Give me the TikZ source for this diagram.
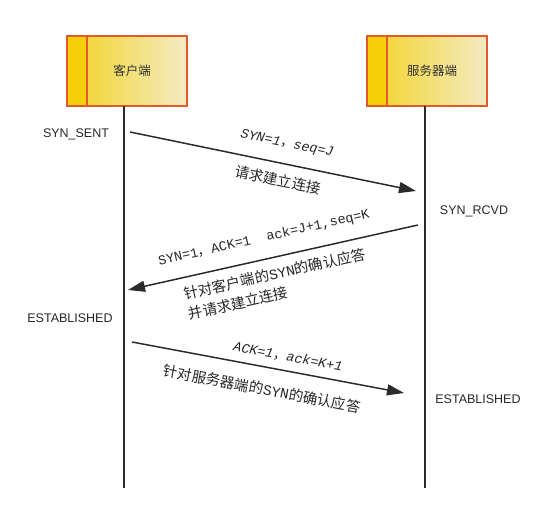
\documentclass[tikz,border=0pt]{standalone}
\usepackage{fontspec}
\setmainfont{Liberation Sans}
\newfontfamily\cjk{Noto Sans CJK SC}
\newfontfamily\monof{Liberation Mono}
\usetikzlibrary{arrows.meta}
\definecolor{stripcol}{HTML}{F5D00A}
\definecolor{gradl}{HTML}{F2D322}
\definecolor{gradr}{HTML}{F4EBC4}
\definecolor{bordercol}{HTML}{E2592A}
\definecolor{linecol}{HTML}{2B2B2B}
\begin{document}
\begin{tikzpicture}[x=1pt,y=-1pt,
  box/.style={minimum width=120pt,minimum height=70pt,inner sep=0pt,
    left color=gradl,right color=gradr,draw=none,
    path picture={\fill[stripcol] (path picture bounding box.north west) rectangle ([xshift=20pt]path picture bounding box.south west);}},
  boxtext/.style={font=\cjk\fontsize{12.5}{14}\selectfont,text=black!80},
  state/.style={font=\fontsize{12.5}{14}\selectfont,text=black!85},
  life/.style={draw=linecol,line width=1.4pt},
  msg/.style={draw=linecol,line width=1.5pt,-{Triangle[length=17pt,width=11pt]}},
  mono/.style={font=\monof\fontsize{13.5}{15}\selectfont,text=black!85},
  cn/.style={font=\cjk\fontsize{14.5}{20.5}\selectfont,text=black!85}
]
\useasboundingbox (0,0) rectangle (541,510);
% boxes
\node[box] (client) at (127,71) {};
\node[box] (server) at (427,71) {};
\draw[draw=bordercol,line width=1.5pt] (client.north west) rectangle (client.south east);
\draw[draw=bordercol,line width=1.5pt] ([xshift=20pt]client.north west) -- ([xshift=20pt]client.south west);
\draw[draw=bordercol,line width=1.5pt] (server.north west) rectangle (server.south east);
\draw[draw=bordercol,line width=1.5pt] ([xshift=20pt]server.north west) -- ([xshift=20pt]server.south west);
\node[boxtext] (clientlbl) at (132,71) {客户端};
\node[boxtext] (serverlbl) at (432,71) {服务器端};
% lifelines
\coordinate (cbot) at (124,488);
\coordinate (sbot) at (425,488);
\coordinate (ctop) at (124,106);
\coordinate (stop) at (425,106);
\draw[life] (ctop) -- (cbot);
\draw[life] (stop) -- (sbot);
% states
\node[state] (s1) at (76,134) {SYN\_SENT};
\node[state] (s2) at (474,211) {SYN\_RCVD};
\node[state] (s3) at (70,318) {ESTABLISHED};
\node[state] (s4) at (478,399) {ESTABLISHED};
% messages
\coordinate (a1s) at (130,132);
\coordinate (a1e) at (416,191);
\coordinate (a2s) at (418,225);
\coordinate (a2e) at (128,290);
\coordinate (a3s) at (132,342);
\coordinate (a3e) at (404,393);
\draw[msg] (a1s) -- (a1e);
\draw[msg] (a2s) -- (a2e);
\draw[msg] (a3s) -- (a3e);
% labels
\node[mono,rotate=-11.5] (l1a) at (287,144) {\itshape SYN=1{\cjk ，}seq=J};
\node[cn,rotate=-11.5] (l1b) at (278,180) {请求建立连接};
\node[mono,rotate=12.7] (l2a) at (264,238) {SYN=1{\cjk ，}ACK=1\ \ ack=J+1,seq=K};
\node[cn,rotate=12.7,anchor=west,align=left] (l2b) at (183,305) {针对客户端的{\monof SYN}的确认应答\\并请求建立连接};
\node[mono,rotate=-10.7] (l3a) at (288,357) {\itshape ACK=1{\cjk ，}ack=K+1};
\node[cn,rotate=-10.7] (l3b) at (262,389) {针对服务器端的{\monof SYN}的确认应答};
\end{tikzpicture}
\end{document}
